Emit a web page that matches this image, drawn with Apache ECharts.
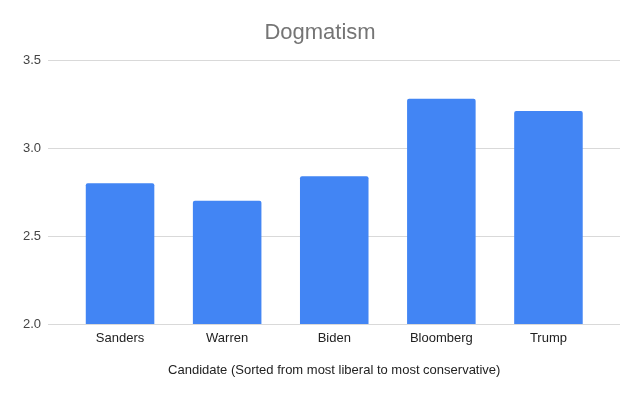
<!DOCTYPE html>
<html><head><meta charset="utf-8">
<script src="https://cdn.jsdelivr.net/npm/echarts@6/dist/echarts.min.js"></script>
<style>html,body{margin:0;padding:0;background:#fff}#c{width:640px;height:396px}</style>
</head><body><div id="c"></div>
<script>
const categories = ["Sanders", "Warren", "Biden", "Bloomberg", "Trump"];
const dogmatism = [2.80, 2.70, 2.84, 3.28, 3.21];
const yTicks = [2.0, 2.5, 3.0, 3.5];

const FONT = 'Liberation Sans, Arial, sans-serif';
const yMin = yTicks[0], yMax = yTicks[yTicks.length - 1];
const chart = echarts.init(document.getElementById('c'));
chart.setOption({
  animation: false,
  backgroundColor: '#fff',
  title: {
    text: 'Dogmatism', left: 'center', top: 17,
    textStyle: {fontFamily: FONT, fontSize: 22, fontWeight: 'normal', color: '#757575'}
  },
  grid: [
    {left: 48, right: 20, top: 60, bottom: 72},
    {left: 66.5, right: 38, top: 60, bottom: 72}
  ],
  xAxis: [
    {type: 'value', gridIndex: 0, show: false, min: 0, max: 1},
    {
      type: 'category', gridIndex: 1, data: categories,
      name: 'Candidate (Sorted from most liberal to most conservative)',
      nameLocation: 'middle', nameGap: 40,
      nameTextStyle: {fontFamily: FONT, fontSize: 13, color: '#222'},
      axisLine: {show: false},
      axisTick: {show: false},
      axisLabel: {fontFamily: FONT, fontSize: 13, color: '#222', margin: 8}
    }
  ],
  yAxis: [
    {
      type: 'value', gridIndex: 0, min: yMin, max: yMax, interval: 0.5,
      axisLine: {show: false}, axisTick: {show: false},
      axisLabel: {fontFamily: FONT, fontSize: 13, color: '#444', margin: 7,
        formatter: v => v.toFixed(1)},
      splitLine: {lineStyle: {color: '#d9d9d9'}}
    },
    {
      type: 'value', gridIndex: 1, min: yMin, max: yMax, interval: 0.5,
      show: false, splitLine: {show: false}
    }
  ],
  series: [{
    type: 'bar', xAxisIndex: 1, yAxisIndex: 1, data: dogmatism, barWidth: '64%',
    itemStyle: {color: '#4285F4', borderRadius: [2, 2, 0, 0]}
  }]
});
</script></body></html>
